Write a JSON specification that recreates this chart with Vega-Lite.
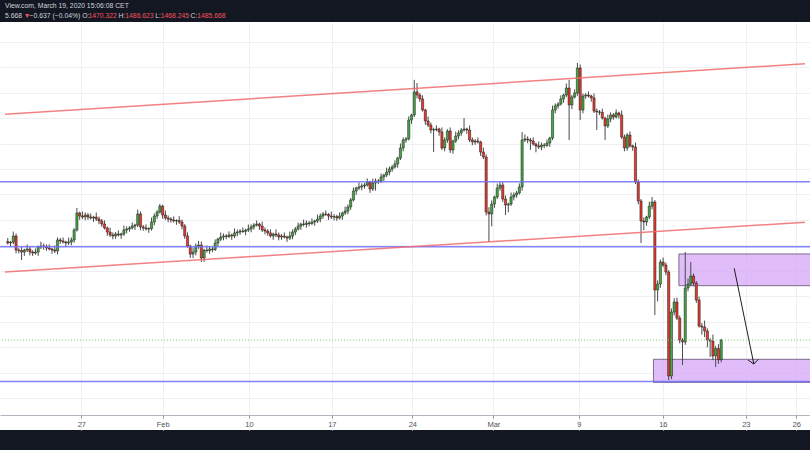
{
  "$schema": "https://vega.github.io/schema/vega-lite/v6.json",
  "width": 810,
  "height": 408,
  "autosize": {"type": "none"},
  "padding": {"top": 22, "bottom": 20, "left": 0, "right": 0},
  "background": "#131722",
  "config": {"view": {"stroke": null, "fill": "#ffffff"}},
  "resolve": {"axis": {"x": "independent", "y": "independent"}},
  "datasets": {
    "candles": [
{"i":1,"o":1563.0,"h":1565.8,"l":1560.7,"c":1561.9},
{"i":2,"o":1561.9,"h":1563.5,"l":1558.9,"c":1562.5},
{"i":3,"o":1562.5,"h":1570.9,"l":1560.9,"c":1567.4},
{"i":4,"o":1567.4,"h":1569.4,"l":1553.8,"c":1556.4},
{"i":5,"o":1556.4,"h":1557.9,"l":1553.8,"c":1556.0},
{"i":6,"o":1556.0,"h":1558.8,"l":1548.5,"c":1554.8},
{"i":7,"o":1554.8,"h":1557.4,"l":1551.8,"c":1556.4},
{"i":8,"o":1556.4,"h":1560.7,"l":1554.8,"c":1557.2},
{"i":9,"o":1557.2,"h":1559.2,"l":1552.2,"c":1554.8},
{"i":10,"o":1554.8,"h":1556.3,"l":1551.8,"c":1554.0},
{"i":11,"o":1554.0,"h":1557.6,"l":1552.8,"c":1554.8},
{"i":12,"o":1554.8,"h":1559.8,"l":1551.8,"c":1558.8},
{"i":13,"o":1558.8,"h":1563.0,"l":1557.2,"c":1559.5},
{"i":14,"o":1559.5,"h":1561.5,"l":1556.6,"c":1559.2},
{"i":15,"o":1559.2,"h":1560.7,"l":1555.8,"c":1558.0},
{"i":16,"o":1558.0,"h":1560.8,"l":1556.0,"c":1557.2},
{"i":17,"o":1557.2,"h":1558.2,"l":1553.4,"c":1556.4},
{"i":18,"o":1556.4,"h":1559.9,"l":1554.0,"c":1555.6},
{"i":19,"o":1555.6,"h":1566.3,"l":1553.0,"c":1564.3},
{"i":20,"o":1564.3,"h":1565.8,"l":1561.3,"c":1563.5},
{"i":21,"o":1563.5,"h":1566.3,"l":1561.5,"c":1562.7},
{"i":22,"o":1562.7,"h":1563.7,"l":1558.9,"c":1561.9},
{"i":23,"o":1561.9,"h":1566.2,"l":1560.3,"c":1562.7},
{"i":24,"o":1562.7,"h":1566.3,"l":1560.1,"c":1564.3},
{"i":25,"o":1564.3,"h":1573.6,"l":1562.1,"c":1572.1},
{"i":26,"o":1572.1,"h":1589.4,"l":1570.9,"c":1585.5},
{"i":27,"o":1585.5,"h":1586.5,"l":1580.1,"c":1583.1},
{"i":28,"o":1583.1,"h":1586.6,"l":1580.7,"c":1582.3},
{"i":29,"o":1582.3,"h":1585.9,"l":1579.7,"c":1583.9},
{"i":30,"o":1583.9,"h":1585.4,"l":1580.1,"c":1582.3},
{"i":31,"o":1582.3,"h":1585.1,"l":1580.3,"c":1581.5},
{"i":32,"o":1581.5,"h":1583.3,"l":1578.5,"c":1582.3},
{"i":33,"o":1582.3,"h":1585.8,"l":1579.1,"c":1580.7},
{"i":34,"o":1580.7,"h":1582.7,"l":1576.6,"c":1579.2},
{"i":35,"o":1579.2,"h":1580.7,"l":1574.6,"c":1576.8},
{"i":36,"o":1576.8,"h":1579.6,"l":1572.5,"c":1573.7},
{"i":37,"o":1573.7,"h":1574.7,"l":1567.5,"c":1570.5},
{"i":38,"o":1570.5,"h":1574.0,"l":1566.6,"c":1568.2},
{"i":39,"o":1568.2,"h":1570.2,"l":1564.8,"c":1567.4},
{"i":40,"o":1567.4,"h":1570.5,"l":1565.2,"c":1569.0},
{"i":41,"o":1569.0,"h":1571.8,"l":1567.0,"c":1568.2},
{"i":42,"o":1568.2,"h":1570.0,"l":1565.2,"c":1569.0},
{"i":43,"o":1569.0,"h":1575.6,"l":1567.4,"c":1572.1},
{"i":44,"o":1572.1,"h":1574.9,"l":1569.5,"c":1572.9},
{"i":45,"o":1572.9,"h":1575.2,"l":1570.7,"c":1573.7},
{"i":46,"o":1573.7,"h":1578.0,"l":1572.5,"c":1575.2},
{"i":47,"o":1575.2,"h":1577.0,"l":1572.2,"c":1576.0},
{"i":48,"o":1576.0,"h":1588.2,"l":1574.4,"c":1584.7},
{"i":49,"o":1584.7,"h":1586.7,"l":1571.9,"c":1574.5},
{"i":50,"o":1574.5,"h":1576.0,"l":1571.5,"c":1573.7},
{"i":51,"o":1573.7,"h":1576.5,"l":1571.7,"c":1572.9},
{"i":52,"o":1572.9,"h":1574.2,"l":1569.9,"c":1573.2},
{"i":53,"o":1573.2,"h":1581.9,"l":1571.6,"c":1578.4},
{"i":54,"o":1578.4,"h":1585.1,"l":1575.8,"c":1583.1},
{"i":55,"o":1583.1,"h":1587.7,"l":1580.9,"c":1586.2},
{"i":56,"o":1586.2,"h":1592.5,"l":1585.0,"c":1590.9},
{"i":57,"o":1590.9,"h":1591.9,"l":1580.9,"c":1583.9},
{"i":58,"o":1583.9,"h":1587.4,"l":1579.9,"c":1581.5},
{"i":59,"o":1581.5,"h":1583.5,"l":1578.1,"c":1580.7},
{"i":60,"o":1580.7,"h":1582.2,"l":1577.8,"c":1580.0},
{"i":61,"o":1580.0,"h":1582.8,"l":1578.0,"c":1579.2},
{"i":62,"o":1579.2,"h":1580.5,"l":1576.2,"c":1579.5},
{"i":63,"o":1579.5,"h":1583.0,"l":1576.8,"c":1578.4},
{"i":64,"o":1578.4,"h":1580.4,"l":1572.6,"c":1575.2},
{"i":65,"o":1575.2,"h":1576.7,"l":1565.2,"c":1567.4},
{"i":66,"o":1567.4,"h":1570.2,"l":1558.3,"c":1559.5},
{"i":67,"o":1559.5,"h":1560.5,"l":1550.2,"c":1553.2},
{"i":68,"o":1553.2,"h":1558.3,"l":1550.1,"c":1554.8},
{"i":69,"o":1554.8,"h":1561.5,"l":1552.2,"c":1559.5},
{"i":70,"o":1559.5,"h":1563.5,"l":1557.3,"c":1560.3},
{"i":71,"o":1560.3,"h":1563.1,"l":1547.0,"c":1550.1},
{"i":72,"o":1550.1,"h":1557.4,"l":1547.1,"c":1556.4},
{"i":73,"o":1556.4,"h":1559.9,"l":1554.4,"c":1556.0},
{"i":74,"o":1556.0,"h":1559.2,"l":1553.4,"c":1557.2},
{"i":75,"o":1557.2,"h":1558.7,"l":1554.6,"c":1556.8},
{"i":76,"o":1556.8,"h":1564.7,"l":1555.6,"c":1561.9},
{"i":77,"o":1561.9,"h":1566.0,"l":1558.9,"c":1565.0},
{"i":78,"o":1565.0,"h":1570.1,"l":1563.4,"c":1566.6},
{"i":79,"o":1566.6,"h":1569.4,"l":1564.0,"c":1567.4},
{"i":80,"o":1567.4,"h":1568.9,"l":1564.8,"c":1567.0},
{"i":81,"o":1567.0,"h":1571.0,"l":1565.8,"c":1568.2},
{"i":82,"o":1568.2,"h":1569.2,"l":1564.4,"c":1567.4},
{"i":83,"o":1567.4,"h":1573.3,"l":1565.8,"c":1569.8},
{"i":84,"o":1569.8,"h":1572.5,"l":1567.2,"c":1570.5},
{"i":85,"o":1570.5,"h":1572.8,"l":1568.3,"c":1571.3},
{"i":86,"o":1571.3,"h":1574.1,"l":1569.8,"c":1571.0},
{"i":87,"o":1571.0,"h":1573.1,"l":1568.0,"c":1572.1},
{"i":88,"o":1572.1,"h":1576.4,"l":1570.5,"c":1572.9},
{"i":89,"o":1572.9,"h":1576.5,"l":1570.3,"c":1574.5},
{"i":90,"o":1574.5,"h":1577.5,"l":1572.3,"c":1576.0},
{"i":91,"o":1576.0,"h":1579.6,"l":1574.8,"c":1576.8},
{"i":92,"o":1576.8,"h":1577.8,"l":1572.2,"c":1575.2},
{"i":93,"o":1575.2,"h":1578.7,"l":1570.5,"c":1572.1},
{"i":94,"o":1572.1,"h":1574.1,"l":1568.7,"c":1571.3},
{"i":95,"o":1571.3,"h":1572.8,"l":1567.6,"c":1569.8},
{"i":96,"o":1569.8,"h":1572.6,"l":1566.2,"c":1567.4},
{"i":97,"o":1567.4,"h":1570.0,"l":1564.4,"c":1569.0},
{"i":98,"o":1569.0,"h":1572.5,"l":1566.6,"c":1568.2},
{"i":99,"o":1568.2,"h":1570.2,"l":1564.0,"c":1566.6},
{"i":100,"o":1566.6,"h":1568.9,"l":1564.4,"c":1567.4},
{"i":101,"o":1567.4,"h":1570.2,"l":1565.4,"c":1566.6},
{"i":102,"o":1566.6,"h":1567.6,"l":1562.8,"c":1565.8},
{"i":103,"o":1565.8,"h":1570.9,"l":1564.2,"c":1567.4},
{"i":104,"o":1567.4,"h":1572.5,"l":1564.8,"c":1570.5},
{"i":105,"o":1570.5,"h":1574.4,"l":1568.3,"c":1572.9},
{"i":106,"o":1572.9,"h":1578.0,"l":1571.7,"c":1575.2},
{"i":107,"o":1575.2,"h":1577.8,"l":1572.2,"c":1576.8},
{"i":108,"o":1576.8,"h":1580.3,"l":1574.9,"c":1576.5},
{"i":109,"o":1576.5,"h":1579.6,"l":1573.9,"c":1577.6},
{"i":110,"o":1577.6,"h":1579.1,"l":1575.0,"c":1577.2},
{"i":111,"o":1577.2,"h":1581.2,"l":1576.0,"c":1578.4},
{"i":112,"o":1578.4,"h":1580.2,"l":1575.4,"c":1579.2},
{"i":113,"o":1579.2,"h":1584.2,"l":1577.6,"c":1580.7},
{"i":114,"o":1580.7,"h":1585.1,"l":1578.1,"c":1583.1},
{"i":115,"o":1583.1,"h":1586.2,"l":1580.9,"c":1584.7},
{"i":116,"o":1584.7,"h":1587.5,"l":1583.2,"c":1584.4},
{"i":117,"o":1584.4,"h":1585.4,"l":1580.1,"c":1583.1},
{"i":118,"o":1583.1,"h":1586.6,"l":1580.7,"c":1582.3},
{"i":119,"o":1582.3,"h":1584.6,"l":1579.7,"c":1582.6},
{"i":120,"o":1582.6,"h":1584.1,"l":1579.3,"c":1581.5},
{"i":121,"o":1581.5,"h":1585.9,"l":1580.3,"c":1583.1},
{"i":122,"o":1583.1,"h":1586.5,"l":1580.1,"c":1585.5},
{"i":123,"o":1585.5,"h":1590.5,"l":1583.9,"c":1587.0},
{"i":124,"o":1587.0,"h":1592.2,"l":1584.4,"c":1590.2},
{"i":125,"o":1590.2,"h":1597.2,"l":1588.0,"c":1595.7},
{"i":126,"o":1595.7,"h":1605.5,"l":1594.5,"c":1602.7},
{"i":127,"o":1602.7,"h":1606.1,"l":1599.7,"c":1605.1},
{"i":128,"o":1605.1,"h":1609.4,"l":1603.5,"c":1605.9},
{"i":129,"o":1605.9,"h":1608.7,"l":1603.3,"c":1606.7},
{"i":130,"o":1606.7,"h":1608.9,"l":1604.5,"c":1607.4},
{"i":131,"o":1607.4,"h":1612.6,"l":1606.2,"c":1609.8},
{"i":132,"o":1609.8,"h":1610.8,"l":1601.3,"c":1604.3},
{"i":133,"o":1604.3,"h":1612.5,"l":1602.7,"c":1609.0},
{"i":134,"o":1609.0,"h":1612.6,"l":1603.0,"c":1610.6},
{"i":135,"o":1610.6,"h":1612.1,"l":1608.1,"c":1610.3},
{"i":136,"o":1610.3,"h":1616.5,"l":1609.1,"c":1613.7},
{"i":137,"o":1613.7,"h":1616.3,"l":1610.7,"c":1615.3},
{"i":138,"o":1615.3,"h":1621.1,"l":1613.7,"c":1617.6},
{"i":139,"o":1617.6,"h":1622.0,"l":1615.0,"c":1620.0},
{"i":140,"o":1620.0,"h":1623.1,"l":1617.8,"c":1621.6},
{"i":141,"o":1621.6,"h":1626.8,"l":1620.4,"c":1624.0},
{"i":142,"o":1624.0,"h":1629.6,"l":1621.0,"c":1628.6},
{"i":143,"o":1628.6,"h":1640.0,"l":1627.0,"c":1636.5},
{"i":144,"o":1636.5,"h":1644.8,"l":1633.9,"c":1642.8},
{"i":145,"o":1642.8,"h":1645.1,"l":1640.6,"c":1643.6},
{"i":146,"o":1643.6,"h":1661.3,"l":1642.4,"c":1658.5},
{"i":147,"o":1658.5,"h":1663.4,"l":1655.5,"c":1662.4},
{"i":148,"o":1662.4,"h":1690.0,"l":1660.8,"c":1680.5},
{"i":149,"o":1680.5,"h":1687.5,"l":1675.5,"c":1678.1},
{"i":150,"o":1678.1,"h":1679.6,"l":1672.8,"c":1675.0},
{"i":151,"o":1675.0,"h":1677.8,"l":1665.1,"c":1666.3},
{"i":152,"o":1666.3,"h":1667.3,"l":1654.7,"c":1657.7},
{"i":153,"o":1657.7,"h":1661.2,"l":1652.9,"c":1654.5},
{"i":154,"o":1654.5,"h":1656.5,"l":1648.0,"c":1650.6},
{"i":155,"o":1650.6,"h":1652.4,"l":1633.3,"c":1650.9},
{"i":156,"o":1650.9,"h":1654.2,"l":1649.7,"c":1651.4},
{"i":157,"o":1651.4,"h":1652.4,"l":1646.1,"c":1649.1},
{"i":158,"o":1649.1,"h":1652.6,"l":1634.9,"c":1636.5},
{"i":159,"o":1636.5,"h":1644.8,"l":1633.9,"c":1642.8},
{"i":160,"o":1642.8,"h":1651.3,"l":1640.6,"c":1649.8},
{"i":161,"o":1649.8,"h":1652.6,"l":1632.6,"c":1634.9},
{"i":162,"o":1634.9,"h":1643.0,"l":1632.0,"c":1642.0},
{"i":163,"o":1642.0,"h":1649.4,"l":1640.4,"c":1645.9},
{"i":164,"o":1645.9,"h":1650.3,"l":1643.3,"c":1648.3},
{"i":165,"o":1648.3,"h":1652.1,"l":1646.1,"c":1650.6},
{"i":166,"o":1650.6,"h":1660.0,"l":1649.4,"c":1651.4},
{"i":167,"o":1651.4,"h":1652.4,"l":1647.6,"c":1650.6},
{"i":168,"o":1650.6,"h":1654.1,"l":1641.2,"c":1642.8},
{"i":169,"o":1642.8,"h":1644.8,"l":1638.6,"c":1641.2},
{"i":170,"o":1641.2,"h":1643.5,"l":1639.0,"c":1642.0},
{"i":171,"o":1642.0,"h":1644.8,"l":1640.0,"c":1641.2},
{"i":172,"o":1641.2,"h":1642.2,"l":1630.3,"c":1633.3},
{"i":173,"o":1633.3,"h":1636.8,"l":1627.8,"c":1629.4},
{"i":174,"o":1629.4,"h":1631.4,"l":1583.6,"c":1586.2},
{"i":175,"o":1586.2,"h":1590.0,"l":1562.7,"c":1584.7},
{"i":176,"o":1584.7,"h":1595.3,"l":1575.0,"c":1592.5},
{"i":177,"o":1592.5,"h":1599.0,"l":1589.5,"c":1598.0},
{"i":178,"o":1598.0,"h":1608.6,"l":1596.4,"c":1605.1},
{"i":179,"o":1605.1,"h":1609.8,"l":1603.0,"c":1607.4},
{"i":180,"o":1607.4,"h":1609.8,"l":1594.2,"c":1596.4},
{"i":181,"o":1596.4,"h":1599.2,"l":1583.9,"c":1591.7},
{"i":182,"o":1591.7,"h":1593.5,"l":1586.0,"c":1592.5},
{"i":183,"o":1592.5,"h":1601.5,"l":1590.9,"c":1598.0},
{"i":184,"o":1598.0,"h":1601.6,"l":1595.4,"c":1599.6},
{"i":185,"o":1599.6,"h":1602.7,"l":1597.4,"c":1601.2},
{"i":186,"o":1601.2,"h":1608.7,"l":1600.0,"c":1605.9},
{"i":187,"o":1605.9,"h":1649.0,"l":1602.9,"c":1642.8},
{"i":188,"o":1642.8,"h":1647.1,"l":1641.2,"c":1643.6},
{"i":189,"o":1643.6,"h":1645.6,"l":1640.2,"c":1642.8},
{"i":190,"o":1642.8,"h":1644.3,"l":1635.0,"c":1642.0},
{"i":191,"o":1642.0,"h":1644.8,"l":1638.4,"c":1639.6},
{"i":192,"o":1639.6,"h":1640.6,"l":1633.1,"c":1638.1},
{"i":193,"o":1638.1,"h":1641.6,"l":1635.7,"c":1637.3},
{"i":194,"o":1637.3,"h":1640.8,"l":1634.7,"c":1638.8},
{"i":195,"o":1638.8,"h":1640.3,"l":1636.3,"c":1638.5},
{"i":196,"o":1638.5,"h":1643.2,"l":1637.3,"c":1640.4},
{"i":197,"o":1640.4,"h":1645.3,"l":1637.4,"c":1644.3},
{"i":198,"o":1644.3,"h":1669.8,"l":1642.7,"c":1666.3},
{"i":199,"o":1666.3,"h":1671.5,"l":1663.7,"c":1669.5},
{"i":200,"o":1669.5,"h":1672.5,"l":1667.3,"c":1671.0},
{"i":201,"o":1671.0,"h":1677.8,"l":1669.8,"c":1675.0},
{"i":202,"o":1675.0,"h":1679.1,"l":1672.0,"c":1678.1},
{"i":203,"o":1678.1,"h":1687.1,"l":1676.5,"c":1683.6},
{"i":204,"o":1683.6,"h":1690.0,"l":1642.8,"c":1670.3},
{"i":205,"o":1670.3,"h":1678.0,"l":1667.0,"c":1676.5},
{"i":206,"o":1676.5,"h":1682.5,"l":1675.3,"c":1679.7},
{"i":207,"o":1679.7,"h":1703.2,"l":1677.5,"c":1699.3},
{"i":208,"o":1699.3,"h":1702.0,"l":1658.5,"c":1666.3},
{"i":209,"o":1666.3,"h":1679.3,"l":1663.7,"c":1677.3},
{"i":210,"o":1677.3,"h":1679.6,"l":1675.1,"c":1678.1},
{"i":211,"o":1678.1,"h":1680.9,"l":1676.1,"c":1677.3},
{"i":212,"o":1677.3,"h":1678.3,"l":1672.8,"c":1675.8},
{"i":213,"o":1675.8,"h":1679.3,"l":1663.9,"c":1665.5},
{"i":214,"o":1665.5,"h":1667.5,"l":1650.6,"c":1664.8},
{"i":215,"o":1664.8,"h":1666.3,"l":1662.3,"c":1664.5},
{"i":216,"o":1664.5,"h":1667.3,"l":1658.8,"c":1660.0},
{"i":217,"o":1660.0,"h":1661.0,"l":1642.8,"c":1653.8},
{"i":218,"o":1653.8,"h":1662.8,"l":1652.2,"c":1659.3},
{"i":219,"o":1659.3,"h":1664.4,"l":1656.7,"c":1662.4},
{"i":220,"o":1662.4,"h":1663.9,"l":1658.6,"c":1660.8},
{"i":221,"o":1660.8,"h":1666.8,"l":1659.6,"c":1664.0},
{"i":222,"o":1664.0,"h":1665.0,"l":1659.4,"c":1662.4},
{"i":223,"o":1662.4,"h":1665.9,"l":1643.5,"c":1645.1},
{"i":224,"o":1645.1,"h":1647.1,"l":1633.9,"c":1636.5},
{"i":225,"o":1636.5,"h":1648.2,"l":1634.3,"c":1646.7},
{"i":226,"o":1646.7,"h":1649.5,"l":1636.9,"c":1638.1},
{"i":227,"o":1638.1,"h":1639.1,"l":1634.3,"c":1637.3},
{"i":228,"o":1637.3,"h":1640.8,"l":1608.2,"c":1609.8},
{"i":229,"o":1609.8,"h":1611.8,"l":1592.3,"c":1594.9},
{"i":230,"o":1594.9,"h":1596.4,"l":1561.9,"c":1579.2},
{"i":231,"o":1579.2,"h":1582.0,"l":1572.0,"c":1578.4},
{"i":232,"o":1578.4,"h":1583.3,"l":1575.4,"c":1582.3},
{"i":233,"o":1582.3,"h":1594.4,"l":1580.7,"c":1590.9},
{"i":234,"o":1590.9,"h":1598.0,"l":1588.3,"c":1594.1},
{"i":235,"o":1594.1,"h":1595.6,"l":1505.4,"c":1525.0},
{"i":236,"o":1525.0,"h":1532.5,"l":1516.0,"c":1529.7},
{"i":237,"o":1529.7,"h":1549.0,"l":1526.7,"c":1547.0},
{"i":238,"o":1547.0,"h":1550.5,"l":1543.0,"c":1544.6},
{"i":239,"o":1544.6,"h":1546.6,"l":1536.5,"c":1539.1},
{"i":240,"o":1539.1,"h":1540.6,"l":1454.3,"c":1457.5},
{"i":241,"o":1457.5,"h":1510.5,"l":1455.0,"c":1507.7},
{"i":242,"o":1507.7,"h":1518.6,"l":1505.0,"c":1515.6},
{"i":243,"o":1515.6,"h":1519.1,"l":1501.4,"c":1503.0},
{"i":244,"o":1503.0,"h":1505.0,"l":1483.1,"c":1485.7},
{"i":245,"o":1485.7,"h":1487.2,"l":1466.1,"c":1484.2},
{"i":246,"o":1484.2,"h":1554.8,"l":1482.0,"c":1526.6},
{"i":247,"o":1526.6,"h":1534.0,"l":1524.0,"c":1529.7},
{"i":248,"o":1529.7,"h":1547.0,"l":1528.0,"c":1536.0},
{"i":249,"o":1536.0,"h":1538.0,"l":1527.9,"c":1530.5},
{"i":250,"o":1530.5,"h":1532.0,"l":1514.9,"c":1517.1},
{"i":251,"o":1517.1,"h":1519.9,"l":1495.5,"c":1496.7},
{"i":252,"o":1496.7,"h":1499.0,"l":1490.0,"c":1495.9},
{"i":253,"o":1495.9,"h":1501.0,"l":1488.0,"c":1492.8},
{"i":254,"o":1492.8,"h":1494.8,"l":1480.0,"c":1485.7},
{"i":255,"o":1485.7,"h":1487.2,"l":1472.4,"c":1484.9},
{"i":256,"o":1484.9,"h":1490.0,"l":1470.0,"c":1473.2},
{"i":257,"o":1473.2,"h":1481.0,"l":1464.5,"c":1479.0},
{"i":258,"o":1479.0,"h":1482.5,"l":1467.0,"c":1470.3},
{"i":259,"o":1470.322,"h":1486.623,"l":1468.245,"c":1485.668}
    ],
    "zones": [
      {"from": 243.7, "to": 292, "top": 1553.3, "bottom": 1528.4},
      {"from": 234.5, "to": 292, "top": 1470.6, "bottom": 1452.5}
    ],
    "trends": [
      {"a": 0, "pa": 1662.9, "b": 289.3, "pb": 1702.6},
      {"a": 0, "pa": 1539.2, "b": 289.3, "pb": 1578.2}
    ],
    "levels": [{"p": 1610.0}, {"p": 1559.0}, {"p": 1453.2}],
    "arrow": [
      {"a": 263.7, "pa": 1542.0, "b": 270.8, "pb": 1466.9},
      {"a": 268.7, "pa": 1470.0, "b": 270.8, "pb": 1466.9},
      {"a": 272.4, "pa": 1470.6, "b": 270.8, "pb": 1466.9}
    ],
    "header": [
      {"t": "View.com, March 19, 2020 15:06:08 CET", "kind": "label", "at": 0, "p": 1748.0},
      {"t": "5.668", "kind": "label", "at": 0, "p": 1740.1},
      {"t": "▼", "kind": "value", "at": 6.75, "p": 1740.1},
      {"t": "−0.637 (−0.04%) O:", "kind": "label", "at": 8.9, "p": 1740.1},
      {"t": "1470.322", "kind": "value", "at": 30.2, "p": 1740.1},
      {"t": "H:", "kind": "label", "at": 41.0, "p": 1740.1},
      {"t": "1486.623", "kind": "value", "at": 43.5, "p": 1740.1},
      {"t": "L:", "kind": "label", "at": 54.3, "p": 1740.1},
      {"t": "1468.245", "kind": "value", "at": 56.3, "p": 1740.1},
      {"t": "C:", "kind": "label", "at": 67.1, "p": 1740.1},
      {"t": "1485.668", "kind": "value", "at": 69.5, "p": 1740.1}
    ]
  },
  "layer": [
    {
      "data": {"name": "zones"},
      "mark": {"type": "rect", "fill": "#d6a6f7", "fillOpacity": 0.75, "stroke": "#7d6a8c", "strokeWidth": 1, "clip": true},
      "encoding": {
        "x": {"field": "from", "type": "quantitative", "scale": {"domain": [0, 289.3], "nice": false, "zero": false}, "axis": {"orient": "bottom", "offset": -15, "title": null, "values": [27.6, 57.0, 88.2, 118.2, 147.3, 176.6, 207.5, 237.9, 267.9, 286.1], "labelExpr": "datum.value < 30 ? '27' : datum.value < 60 ? 'Feb' : datum.value < 90 ? '10' : datum.value < 120 ? '17' : datum.value < 150 ? '24' : datum.value < 180 ? 'Mar' : datum.value < 210 ? '9' : datum.value < 240 ? '16' : datum.value < 270 ? '23' : '26'", "labelFont": "Liberation Sans", "labelFontSize": 7.5, "labelColor": "#50535e", "labelPadding": 2, "labelOverlap": false, "labelBound": false, "labelFlush": false, "tickColor": "#9598a1", "tickSize": 3, "domainColor": "#b2b5be", "domainWidth": 1, "grid": true, "gridColor": "#eef0f4", "gridWidth": 1}},
        "x2": {"field": "to"},
        "y": {"field": "top", "type": "quantitative", "scale": {"domain": [1415.1, 1735.4], "nice": false, "zero": false}, "axis": {"orient": "right", "title": null, "labels": false, "ticks": false, "domain": false, "grid": true, "gridColor": "#eef0f4", "values": [1440, 1460, 1480, 1500, 1520, 1540, 1560, 1580, 1600, 1620, 1640, 1660, 1680, 1700, 1720]}},
        "y2": {"field": "bottom"}
      }
    },
    {
      "data": {"name": "candles"},
      "mark": {"type": "rule", "color": "#4a4a4a", "strokeWidth": 1},
      "encoding": {
        "x": {"field": "i", "type": "quantitative", "scale": {"domain": [0, 289.3], "nice": false, "zero": false}, "axis": null},
        "y": {"field": "l", "type": "quantitative", "scale": {"domain": [1415.1, 1735.4], "nice": false, "zero": false}, "axis": null},
        "y2": {"field": "h"}
      }
    },
    {
      "data": {"name": "candles"},
      "mark": {"type": "bar", "size": 2.2, "stroke": "#1b1b1b", "strokeWidth": 0.5},
      "encoding": {
        "x": {"field": "i", "type": "quantitative", "scale": {"domain": [0, 289.3], "nice": false, "zero": false}, "axis": null},
        "y": {"field": "o", "type": "quantitative", "scale": {"domain": [1415.1, 1735.4], "nice": false, "zero": false}, "axis": null},
        "y2": {"field": "c"},
        "color": {"condition": {"test": "datum.c >= datum.o", "value": "#46a843"}, "value": "#e8392b"}
      }
    },
    {
      "data": {"name": "levels"},
      "mark": {"type": "rule", "color": "#6f6fff", "strokeWidth": 1.5, "opacity": 0.85},
      "encoding": {
        "y": {"field": "p", "type": "quantitative", "scale": {"domain": [1415.1, 1735.4], "nice": false, "zero": false}, "axis": null}
      }
    },
    {
      "data": {"values": [{"p": 1485.668}]},
      "mark": {"type": "rule", "color": "#7fcf7f", "strokeWidth": 1, "strokeDash": [1, 2]},
      "encoding": {
        "y": {"field": "p", "type": "quantitative", "scale": {"domain": [1415.1, 1735.4], "nice": false, "zero": false}, "axis": null}
      }
    },
    {
      "data": {"name": "trends"},
      "mark": {"type": "rule", "color": "#f26b6b", "strokeWidth": 1.5, "opacity": 0.85, "clip": true},
      "encoding": {
        "x": {"field": "a", "type": "quantitative", "scale": {"domain": [0, 289.3], "nice": false, "zero": false}, "axis": null},
        "x2": {"field": "b"},
        "y": {"field": "pa", "type": "quantitative", "scale": {"domain": [1415.1, 1735.4], "nice": false, "zero": false}, "axis": null},
        "y2": {"field": "pb"}
      }
    },
    {
      "data": {"name": "arrow"},
      "mark": {"type": "rule", "color": "#1e1e1e", "strokeWidth": 1},
      "encoding": {
        "x": {"field": "a", "type": "quantitative", "scale": {"domain": [0, 289.3], "nice": false, "zero": false}, "axis": null},
        "x2": {"field": "b"},
        "y": {"field": "pa", "type": "quantitative", "scale": {"domain": [1415.1, 1735.4], "nice": false, "zero": false}, "axis": null},
        "y2": {"field": "pb"}
      }
    },
    {
      "data": {"name": "header"},
      "mark": {"type": "text", "align": "left", "baseline": "middle", "font": "Liberation Sans", "fontSize": 6.8},
      "encoding": {
        "x": {"field": "at", "type": "quantitative", "scale": {"domain": [0, 289.3], "nice": false, "zero": false}, "axis": null},
        "y": {"field": "p", "type": "quantitative", "scale": {"domain": [1415.1, 1735.4], "nice": false, "zero": false}, "axis": null},
        "text": {"field": "t"},
        "color": {"field": "kind", "type": "nominal", "scale": {"domain": ["label", "value"], "range": ["#d1d4dc", "#f7525f"]}, "legend": null}
      }
    }
  ]
}
